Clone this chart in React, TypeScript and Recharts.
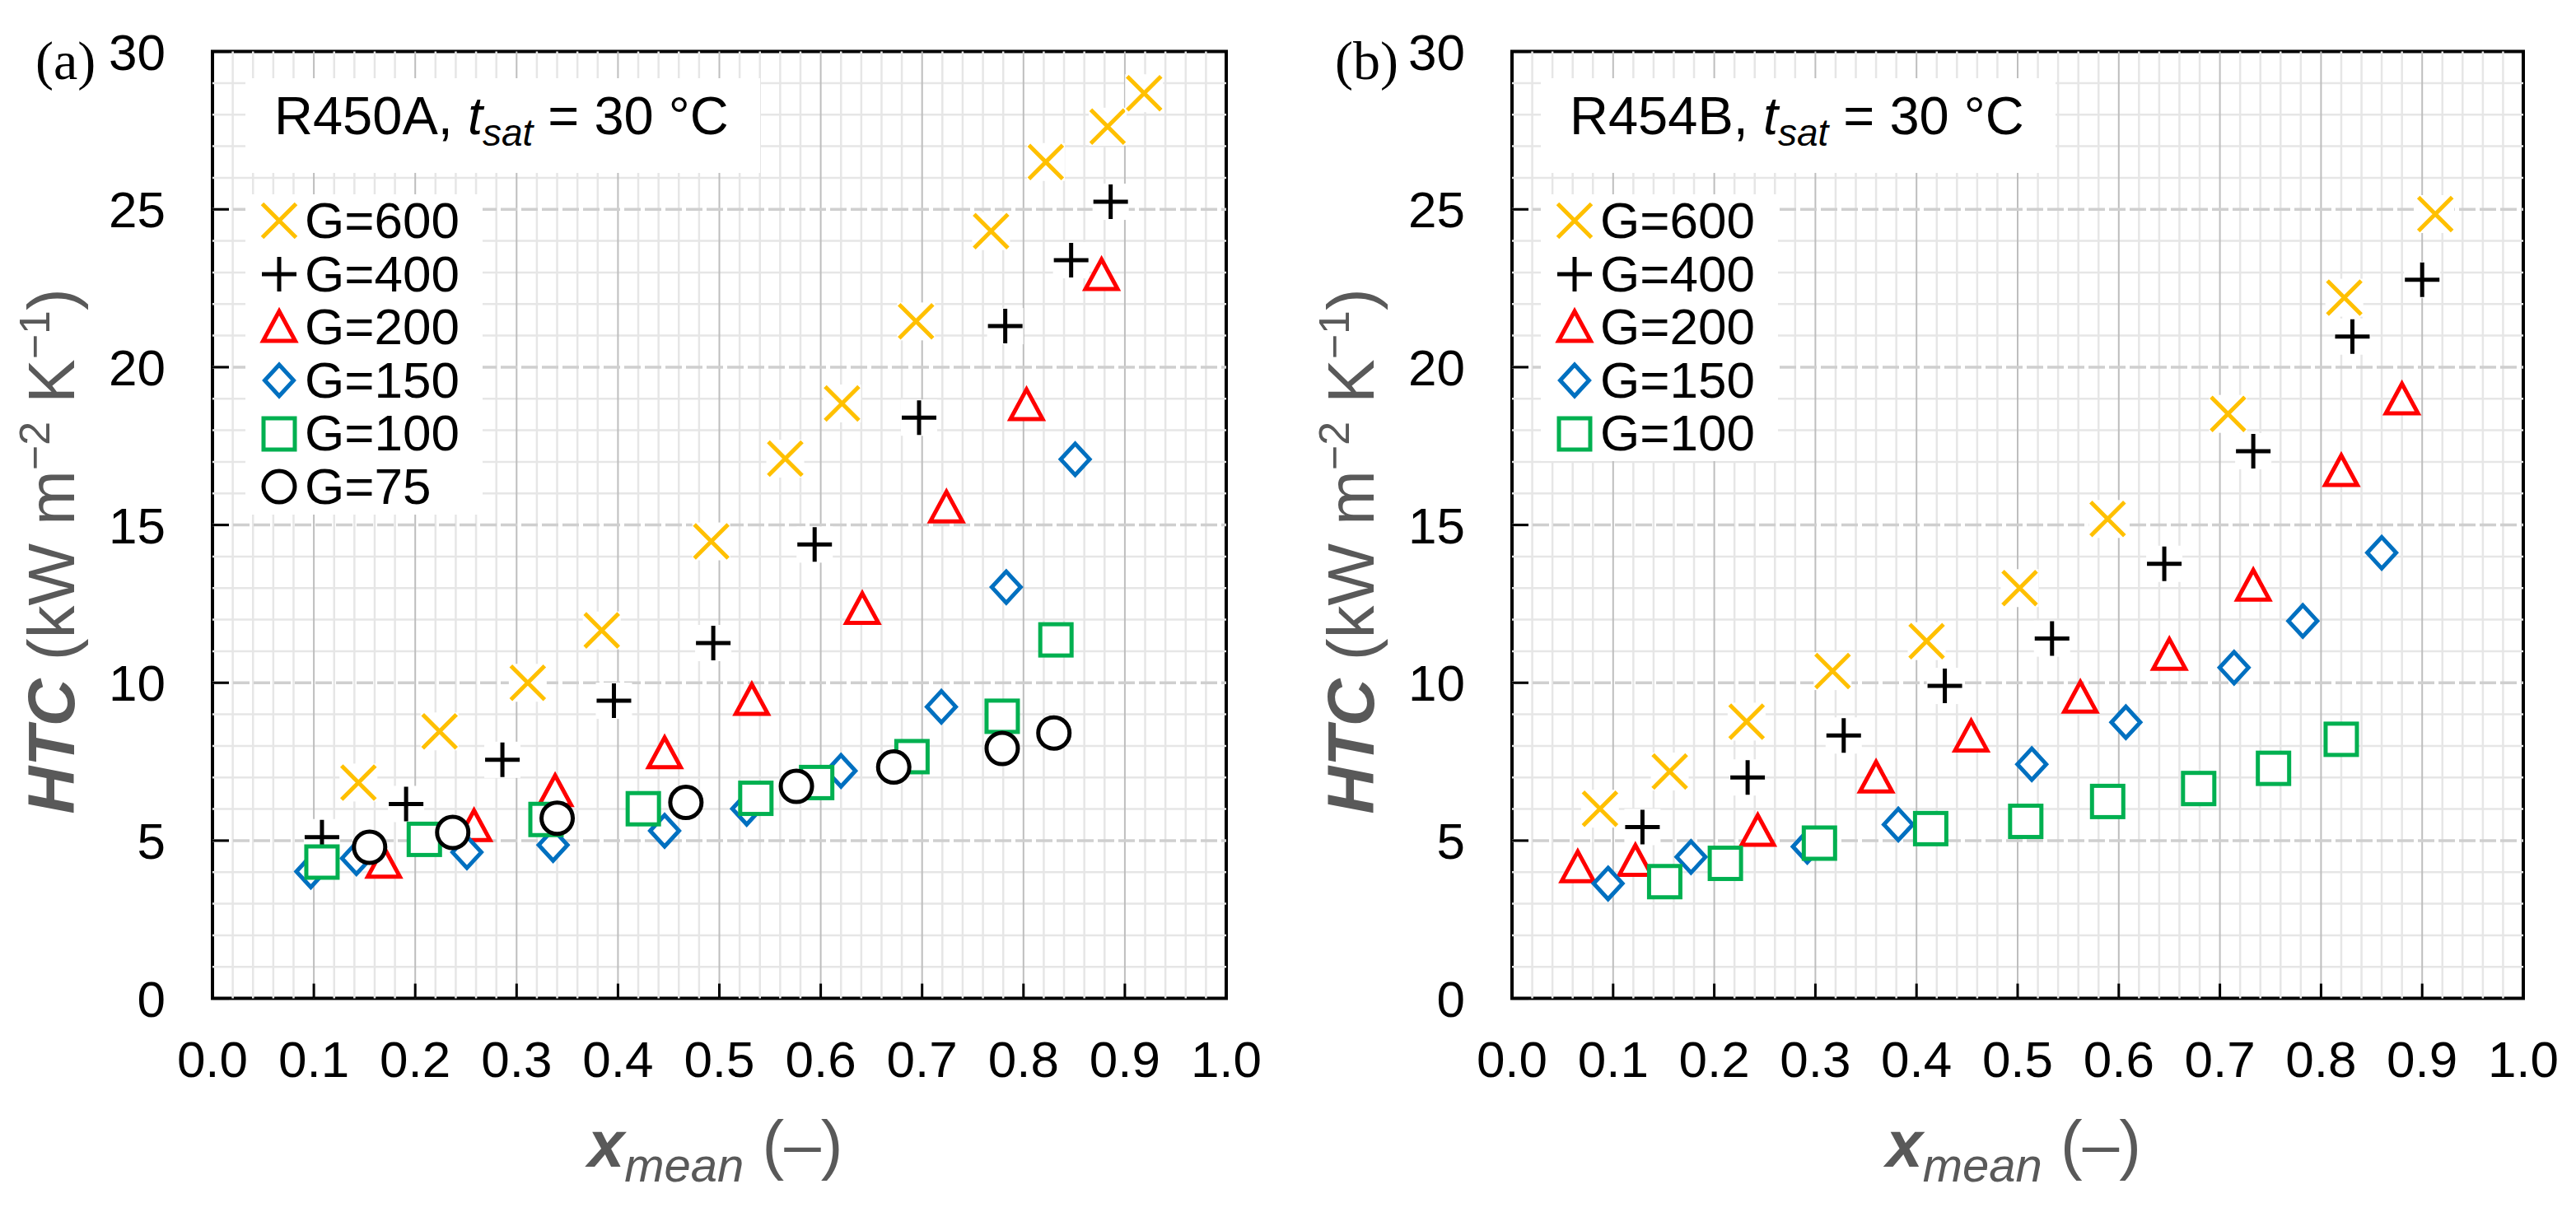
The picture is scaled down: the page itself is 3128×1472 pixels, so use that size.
import React from 'react';
import {
  ScatterChart,
  Scatter,
  XAxis,
  YAxis,
  ReferenceLine,
  ReferenceArea,
  Legend,
  Label,
} from 'recharts';

const FONT = '"Liberation Sans", Arial, Helvetica, sans-serif';
const SERIF = '"Liberation Serif", "Times New Roman", Times, serif';
const TITLE_GRAY = '#595959';

// ---- axes / grid ----
const xTickValues = [0, 0.1, 0.2, 0.3, 0.4, 0.5, 0.6, 0.7, 0.8, 0.9, 1.0];
const yTickValues = [0, 5, 10, 15, 20, 25, 30];
const xMajorGrid = [0.1, 0.2, 0.3, 0.4, 0.5, 0.6, 0.7, 0.8, 0.9];
const yMajorGrid = [5, 10, 15, 20, 25];
const xMinorGrid = [
  0.02, 0.04, 0.06, 0.08, 0.12, 0.14, 0.16, 0.18, 0.22, 0.24, 0.26, 0.28,
  0.32, 0.34, 0.36, 0.38, 0.42, 0.44, 0.46, 0.48, 0.52, 0.54, 0.56, 0.58,
  0.62, 0.64, 0.66, 0.68, 0.72, 0.74, 0.76, 0.78, 0.82, 0.84, 0.86, 0.88,
  0.92, 0.94, 0.96, 0.98,
];
const yMinorGrid = [
  1, 2, 3, 4, 6, 7, 8, 9, 11, 12, 13, 14, 16, 17, 18, 19, 21, 22, 23, 24,
  26, 27, 28, 29,
];

// ---- series definitions ----
const seriesNames = ['G=600', 'G=400', 'G=200', 'G=150', 'G=100', 'G=75'];
const seriesMarkers = ['x', 'plus', 'triangle', 'diamond', 'square', 'circle'];
const seriesColors = ['#FFC000', '#000000', '#FF0000', '#0070C0', '#00B050', '#000000'];

// ---- panel (a): R450A ----
const a600x = [0.144, 0.224, 0.311, 0.384, 0.492, 0.565, 0.621, 0.694, 0.768, 0.822, 0.883, 0.919];
const a600y = [6.84, 8.46, 10.0, 11.66, 14.48, 17.1, 18.85, 21.45, 24.31, 26.5, 27.62, 28.68];
const a400x = [0.108, 0.191, 0.286, 0.396, 0.494, 0.594, 0.697, 0.782, 0.847, 0.886];
const a400y = [5.11, 6.16, 7.56, 9.43, 11.26, 14.38, 18.4, 21.3, 23.39, 25.24];
const a200x = [0.169, 0.258, 0.338, 0.446, 0.532, 0.641, 0.724, 0.803, 0.877];
const a200y = [4.3, 5.46, 6.57, 7.77, 9.46, 12.34, 15.56, 18.8, 22.92];
const a150x = [0.097, 0.142, 0.251, 0.336, 0.446, 0.527, 0.62, 0.719, 0.783, 0.851];
const a150y = [4.02, 4.44, 4.63, 4.86, 5.31, 6.01, 7.21, 9.24, 13.03, 17.08];
const a100x = [0.108, 0.209, 0.329, 0.425, 0.536, 0.596, 0.69, 0.779, 0.832];
const a100y = [4.32, 5.04, 5.67, 6.01, 6.34, 6.84, 7.66, 8.94, 11.36];
const a75x = [0.155, 0.237, 0.34, 0.467, 0.576, 0.672, 0.779, 0.83];
const a75y = [4.79, 5.26, 5.71, 6.21, 6.72, 7.33, 7.92, 8.41];

// ---- panel (b): R454B ----
const b600x = [0.087, 0.156, 0.232, 0.317, 0.41, 0.502, 0.589, 0.708, 0.823, 0.913];
const b600y = [6.01, 7.19, 8.77, 10.37, 11.32, 13.0, 15.19, 18.52, 22.2, 24.85];
const b400x = [0.129, 0.233, 0.328, 0.428, 0.534, 0.645, 0.733, 0.831, 0.9];
const b400y = [5.43, 7.0, 8.33, 9.9, 11.4, 13.77, 17.34, 20.97, 22.77];
const b200x = [0.065, 0.122, 0.243, 0.36, 0.454, 0.562, 0.65, 0.733, 0.82, 0.88];
const b200y = [4.16, 4.36, 5.31, 7.0, 8.3, 9.53, 10.89, 13.08, 16.71, 18.98];
const b150x = [0.095, 0.177, 0.292, 0.382, 0.514, 0.607, 0.714, 0.782, 0.86];
const b150y = [3.64, 4.48, 4.81, 5.51, 7.42, 8.75, 10.48, 11.96, 14.12];
const b100x = [0.151, 0.211, 0.304, 0.414, 0.508, 0.589, 0.679, 0.753, 0.82];
const b100y = [3.7, 4.28, 4.92, 5.38, 5.61, 6.24, 6.65, 7.29, 8.21];

const zip = (xs: number[], ys: number[]) => xs.map((x, i) => ({ x, y: ys[i] }));

const panelAData = [
  zip(a600x, a600y),
  zip(a400x, a400y),
  zip(a200x, a200y),
  zip(a150x, a150y),
  zip(a100x, a100y),
  zip(a75x, a75y),
];
const panelBData = [
  zip(b600x, b600y),
  zip(b400x, b400y),
  zip(b200x, b200y),
  zip(b150x, b150y),
  zip(b100x, b100y),
];

// ---- markers ----
function Marker({ kind, cx, cy, color }: { kind: string; cx: number; cy: number; color: string }) {
  const sw = 5;
  switch (kind) {
    case 'x':
      return (
        <g>
          <rect x={cx - 23} y={cy - 23} width={46} height={46} fill="#fff" />
          <path
            d={`M${cx - 20.5} ${cy - 20.5}L${cx + 20.5} ${cy + 20.5}M${cx - 20.5} ${cy + 20.5}L${cx + 20.5} ${cy - 20.5}`}
            stroke={color}
            strokeWidth={sw}
            fill="none"
          />
        </g>
      );
    case 'plus':
      return (
        <g>
          <rect x={cx - 22} y={cy - 22} width={44} height={44} fill="#fff" />
          <path
            d={`M${cx - 21} ${cy}H${cx + 21}M${cx} ${cy - 21}V${cy + 21}`}
            stroke={color}
            strokeWidth={sw}
            fill="none"
          />
        </g>
      );
    case 'triangle':
      return (
        <path
          d={`M${cx} ${cy - 19}L${cx + 19.5} ${cy + 17}L${cx - 19.5} ${cy + 17}Z`}
          stroke={color}
          strokeWidth={sw}
          fill="#fff"
        />
      );
    case 'diamond':
      return (
        <path
          d={`M${cx} ${cy - 19}L${cx + 17.5} ${cy}L${cx} ${cy + 19}L${cx - 17.5} ${cy}Z`}
          stroke={color}
          strokeWidth={sw}
          fill="#fff"
        />
      );
    case 'square':
      return (
        <rect x={cx - 19} y={cy - 19} width={38} height={38} stroke={color} strokeWidth={sw} fill="#fff" />
      );
    default:
      return <circle cx={cx} cy={cy} r={19} stroke={color} strokeWidth={sw} fill="#fff" />;
  }
}

// ---- axis ticks ----
const XTick = (props: any) => {
  const { x, y, payload } = props;
  return (
    <g>
      <line x1={x} x2={x} y1={y} y2={y - 18} stroke="#000" strokeWidth={3} />
      <text x={x} y={y + 95} textAnchor="middle" fontFamily={FONT} fontSize={62} fill="#000">
        {Number(payload.value).toFixed(1)}
      </text>
    </g>
  );
};

const YTick = (props: any) => {
  const { x, y, payload } = props;
  return (
    <g>
      <line x1={x} x2={x + 20} y1={y} y2={y} stroke="#000" strokeWidth={3} />
      <text x={x - 57} y={y + 22} textAnchor="end" fontFamily={FONT} fontSize={62} fill="#000">
        {payload.value}
      </text>
    </g>
  );
};

const makeXTitle = () => (props: any) => {
  const vb = props.viewBox || { x: 0, y: 0, width: 0, height: 0 };
  return (
    <text
      x={vb.x + vb.width / 2 - 5}
      y={vb.y + 204}
      textAnchor="middle"
      fill={TITLE_GRAY}
      fontFamily={FONT}
      fontSize={80}
    >
      <tspan fontWeight={700} fontStyle="italic">x</tspan>
      <tspan fontStyle="italic" fontSize={58} dy={18}>mean</tspan>
      <tspan dy={-18}>{' (\u2013)'}</tspan>
    </text>
  );
};

const makeYTitle = (panelLabel: string) => (props: any) => {
  const vb = props.viewBox || { x: 0, y: 0, width: 0, height: 0 };
  const plotL = vb.x + vb.width;
  const cx = plotL - 196;
  const cy = vb.y + vb.height / 2 + 32;
  return (
    <g>
      <text
        transform={`translate(${cx},${cy}) rotate(-90)`}
        x={0}
        y={0}
        dy={28}
        textAnchor="middle"
        fill={TITLE_GRAY}
        fontFamily={FONT}
        fontSize={80}
      >
        <tspan fontWeight={700} fontStyle="italic">HTC</tspan>
        <tspan>{' (kW m'}</tspan>
        <tspan fontSize={52} dy={-30}>{'\u22122'}</tspan>
        <tspan dy={30}>{' K'}</tspan>
        <tspan fontSize={52} dy={-30}>{'\u22121'}</tspan>
        <tspan dy={30}>{')'}</tspan>
      </text>
      <text x={plotL - 215} y={vb.y + 33} fontFamily={SERIF} fontSize={66} fill="#000">
        {`(${panelLabel})`}
      </text>
    </g>
  );
};

// ---- legend / title overlay ----
const makeOverlay = (fluid: string, count: number) => () => (
  <div style={{ position: 'relative', width: 640, height: 560, fontFamily: FONT, color: '#000' }}>
    <div style={{ position: 'absolute', left: 0, top: 0, width: 625, height: 115, background: '#fff' }}>
      <div
        style={{
          position: 'absolute',
          left: 35,
          top: 13,
          fontSize: 65,
          lineHeight: '65px',
          whiteSpace: 'nowrap',
        }}
      >
        {fluid + ', '}
        <i>t</i>
        <i style={{ fontSize: 46, verticalAlign: -14 }}>sat</i>
        {' = 30 \u00b0C'}
      </div>
    </div>
    <div
      style={{
        position: 'absolute',
        left: 0,
        top: 141,
        width: 288,
        height: count * 64.6 + 1,
        background: '#fff',
      }}
    >
      {seriesNames.slice(0, count).map((name, i) => (
        <div
          key={name}
          style={{ position: 'absolute', left: 0, top: i * 64.6, height: 64.6, width: 288 }}
        >
          <svg
            width={50}
            height={50}
            style={{ position: 'absolute', left: 16, top: 7.3 }}
          >
            <Marker kind={seriesMarkers[i]} cx={25} cy={25} color={seriesColors[i]} />
          </svg>
          <div
            style={{
              position: 'absolute',
              left: 72,
              top: 0,
              fontSize: 62,
              lineHeight: '64.6px',
              whiteSpace: 'nowrap',
            }}
          >
            {name}
          </div>
        </div>
      ))}
    </div>
  </div>
);

// ---- panel ----
type PanelProps = {
  left: number;
  plotLeft: number;
  plotWidth: number;
  boxLeft: number;
  panelLabel: string;
  fluid: string;
  data: { x: number; y: number }[][];
};

const CHART_W = 1564;
const CHART_H = 1472;
const PLOT_TOP = 62.6;
const PLOT_BOTTOM = 1212.6;

function Panel({ left, plotLeft, plotWidth, boxLeft, panelLabel, fluid, data }: PanelProps) {
  const yAxisW = 100;
  const xAxisH = 100;
  return (
    <div style={{ position: 'absolute', left, top: 0, width: CHART_W, height: CHART_H }}>
      <ScatterChart
        width={CHART_W}
        height={CHART_H}
        margin={{
          top: PLOT_TOP,
          bottom: CHART_H - PLOT_BOTTOM - xAxisH,
          left: plotLeft - yAxisW,
          right: CHART_W - plotLeft - plotWidth,
        }}
      >
        {xMinorGrid.map((v) => (
          <ReferenceLine key={`xm${v}`} x={v} stroke="#E6E6E6" strokeWidth={2.5} />
        ))}
        {yMinorGrid.map((v) => (
          <ReferenceLine key={`ym${v}`} y={v} stroke="#E6E6E6" strokeWidth={2.5} />
        ))}
        {xMajorGrid.map((v) => (
          <ReferenceLine key={`xM${v}`} x={v} stroke="#BEBEBE" strokeWidth={2} />
        ))}
        {yMajorGrid.map((v) => (
          <ReferenceLine
            key={`yM${v}`}
            y={v}
            stroke="#CFCFCF"
            strokeWidth={3.5}
            strokeDasharray="20 5"
          />
        ))}
        <XAxis
          dataKey="x"
          type="number"
          domain={[0, 1]}
          ticks={xTickValues}
          interval={0}
          allowDataOverflow
          axisLine={false}
          tickLine={false}
          tickSize={0}
          tickMargin={0}
          height={xAxisH}
          tick={<XTick />}
        >
          <Label content={makeXTitle()} />
        </XAxis>
        <YAxis
          dataKey="y"
          type="number"
          domain={[0, 30]}
          ticks={yTickValues}
          interval={0}
          allowDataOverflow
          axisLine={false}
          tickLine={false}
          tickSize={0}
          tickMargin={0}
          width={yAxisW}
          tick={<YTick />}
        >
          <Label content={makeYTitle(panelLabel)} />
        </YAxis>
        {data.map((pts, i) => (
          <Scatter
            key={seriesNames[i]}
            name={seriesNames[i]}
            data={pts}
            isAnimationActive={false}
            shape={(p: any) => (
              <Marker kind={seriesMarkers[i]} cx={p.cx} cy={p.cy} color={seriesColors[i]} />
            )}
          />
        ))}
        <ReferenceArea
          x1={0}
          x2={1}
          y1={0}
          y2={30}
          fill="none"
          fillOpacity={0}
          stroke="#000"
          strokeWidth={4}
          ifOverflow="visible"
        />
        <Legend
          layout="horizontal"
          verticalAlign="middle"
          align="center"
          content={makeOverlay(fluid, data.length)}
          wrapperStyle={{ position: 'absolute', left: boxLeft, top: 95, width: 640, height: 560 }}
        />
      </ScatterChart>
    </div>
  );
}

export default function App() {
  return (
    <div
      style={{
        position: 'absolute',
        left: 0,
        top: 0,
        width: 3128,
        height: 1472,
        background: '#fff',
        overflow: 'hidden',
      }}
    >
      <Panel
        left={0}
        plotLeft={258}
        plotWidth={1231}
        boxLeft={298}
        panelLabel="a"
        fluid="R450A"
        data={panelAData}
      />
      <Panel
        left={1564}
        plotLeft={272}
        plotWidth={1228}
        boxLeft={307}
        panelLabel="b"
        fluid="R454B"
        data={panelBData}
      />
    </div>
  );
}
